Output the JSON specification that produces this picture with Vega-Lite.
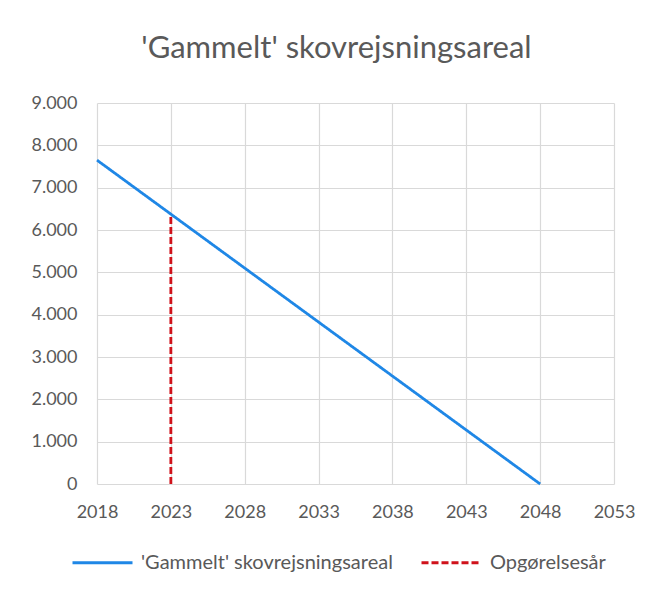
{
  "$schema": "https://vega.github.io/schema/vega-lite/v6.json",
  "width": 517,
  "height": 381,
  "padding": {"left": 97, "top": 103, "right": 44, "bottom": 106},
  "autosize": {"type": "none"},
  "background": "white",
  "title": {
    "text": "'Gammelt' skovrejsningsareal",
    "font": "Lato",
    "fontSize": 31,
    "fontWeight": "normal",
    "color": "#595959",
    "anchor": "middle",
    "dx": -19,
    "offset": 29
  },
  "config": {
    "locale": {"number": {"decimal": ",", "thousands": ".", "grouping": [3], "currency": ["", " kr."]}},
    "view": {"stroke": null},
    "axis": {
      "labelFont": "Lato",
      "labelFontSize": 18,
      "labelColor": "#595959",
      "gridColor": "#d9d9d9",
      "gridWidth": 1.2,
      "domain": false,
      "ticks": false,
      "labelFlush": false,
      "title": null
    },
    "legend": {"labelFont": "Lato", "labelFontSize": 20, "labelColor": "#595959", "labelLimit": 400}
  },
  "data": {
    "values": [
      {"year": 2018, "value": 7650, "series": "'Gammelt' skovrejsningsareal"},
      {"year": 2048, "value": 0, "series": "'Gammelt' skovrejsningsareal"},
      {"year": 2023, "value": 0, "series": "Opgørelsesår"},
      {"year": 2023, "value": 6375, "series": "Opgørelsesår"}
    ]
  },
  "mark": {"type": "line", "strokeWidth": 2.8},
  "encoding": {
    "x": {
      "field": "year",
      "type": "quantitative",
      "scale": {"domain": [2018, 2053], "nice": false, "zero": false},
      "axis": {"values": [2018, 2023, 2028, 2033, 2038, 2043, 2048, 2053], "format": "d", "labelPadding": 19}
    },
    "y": {
      "field": "value",
      "type": "quantitative",
      "scale": {"domain": [0, 9000], "nice": false},
      "axis": {"values": [0, 1000, 2000, 3000, 4000, 5000, 6000, 7000, 8000, 9000], "format": ",d", "labelPadding": 20}
    },
    "color": {
      "field": "series",
      "type": "nominal",
      "scale": {"domain": ["'Gammelt' skovrejsningsareal", "Opgørelsesår"], "range": ["#1f87e6", "#d0121b"]},
      "legend": {
        "title": null,
        "orient": "none",
        "direction": "horizontal",
        "legendX": -26,
        "legendY": 428,
        "symbolType": "stroke",
        "symbolSize": 3600,
        "symbolStrokeWidth": 3,
        "columnPadding": 22,
        "labelOffset": 7
      }
    },
    "strokeDash": {
      "field": "series",
      "type": "nominal",
      "scale": {"domain": ["'Gammelt' skovrejsningsareal", "Opgørelsesår"], "range": [[1, 0], [7, 3]]},
      "legend": null
    },
    "detail": {"field": "series"}
  }
}
